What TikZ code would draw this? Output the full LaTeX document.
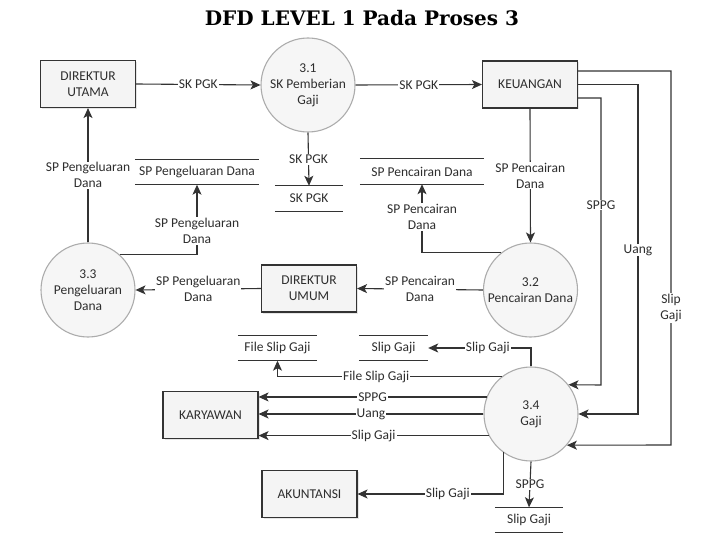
\documentclass[tikz,border=0pt]{standalone}
\usepackage{fontspec}
\setmainfont{Carlito}
\newfontfamily\titlefont{DejaVu Serif}
\usetikzlibrary{arrows.meta,calc,shadows}
\definecolor{ln}{HTML}{333333}
\definecolor{tx}{HTML}{2E2E2E}
\tikzset{
  ent/.style={draw=ln, line width=1.1pt, fill=gray!9, minimum width=95pt, minimum height=47pt, align=center, text=tx, font=\fontsize{13.5}{16}\selectfont, drop shadow={shadow xshift=1.5pt, shadow yshift=-1.5pt, fill=gray!40}},
  proc/.style={circle, draw=gray!65, line width=1.1pt, fill=gray!7, minimum size=94pt, inner sep=0pt, align=center, text=tx, font=\fontsize{13.5}{16}\selectfont},
  store/.style={minimum height=25pt, inner sep=0pt, text=tx, font=\fontsize{13.5}{16}\selectfont},
  arr/.style={draw=ln, line width=1.1pt, -{Stealth[length=10pt,width=9pt,inset=2.5pt]}},
  lbl/.style={fill=white, inner sep=1pt, text=tx, align=center, font=\fontsize{13.5}{16}\selectfont},
}
\begin{document}
\begin{tikzpicture}[x=1pt,y=-1pt]
\useasboundingbox (0,0) rectangle (720,540);
\node[font=\titlefont\bfseries\fontsize{20}{22}\selectfont] (title) at (362,18) {DFD LEVEL 1 Pada Proses 3};
% entities
\node[ent] (du) at (88,84) {DIREKTUR\\UTAMA};
\node[ent] (keu) at (530,84.5) {KEUANGAN};
\node[ent] (dum) at (309,288.5) {DIREKTUR\\UMUM};
\node[ent] (kar) at (210.5,415) {KARYAWAN};
\node[ent] (aku) at (309.5,494) {AKUNTANSI};
% processes
\node[proc] (p31) at (308,85) {3.1\\SK Pemberian\\Gaji};
\node[proc] (p32) at (530.5,290) {3.2\\Pencairan Dana};
\node[proc] (p33) at (88,290) {3.3\\Pengeluaran\\Dana};
\node[proc] (p34) at (531,414) {3.4\\Gaji};
% stores
\node[store, minimum width=124pt] (s1) at (197,172) {SP Pengeluaran Dana};
\node[store, minimum width=68pt] (s2) at (309,198.5) {SK PGK};
\node[store, minimum width=124pt] (s3) at (422,171.5) {SP Pencairan Dana};
\node[store, minimum width=79pt] (s4) at (277.5,348) {File Slip Gaji};
\node[store, minimum width=69pt] (s5) at (393.5,348) {Slip Gaji};
\node[store, minimum width=68pt] (s6) at (529,520) {Slip Gaji};
\foreach \s in {s1,s2,s3,s4,s5,s6}{
  \draw[ln, line width=1.1pt] (\s.north west) -- (\s.north east) (\s.south west) -- (\s.south east);
}
% flows
\draw[arr] (du.east) -- node[lbl]{SK PGK} (p31.west);
\draw[arr] (p31.east) -- node[lbl]{SK PGK} (keu.west);
\draw[arr] (p31.south) -- node[lbl]{SK PGK} (s2.north);
\draw[arr] (p33.north) -- node[lbl]{SP Pengeluaran\\Dana} (du.south);
\draw[arr] (p33.48) -| node[lbl, pos=0.67]{SP Pengeluaran\\Dana} (s1.south);
\draw[arr] (dum.west) -- node[lbl]{SP Pengeluaran\\Dana} (p33.east);
\draw[arr] (p32.west) -- node[lbl]{SP Pencairan\\Dana} (dum.east);
\draw[arr] (p32.128) -| node[lbl, pos=0.76]{SP Pencairan\\Dana} (s3.south);
\draw[arr] (keu.south) -- node[lbl]{SP Pencairan\\Dana} (p32.north);
\draw[arr] ([yshift=-13.5pt]keu.east) -| (601,385) -- (p34.38);
\node[lbl] (l1) at (601,205) {SPPG};
\draw[arr] (keu.east) -| (638,414) -- (p34.east);
\node[lbl] (l2) at (638,250) {Uang};
\draw[arr] ([yshift=13.5pt]keu.east) -| (671,445) -- (p34.-41);
\node[lbl] (l3) at (671,308) {Slip\\Gaji};
\draw[arr] (p34.north) |- node[lbl, pos=0.71]{Slip Gaji} (s5.east);
\draw[arr] (p34.128) -| node[lbl, pos=0.28]{File Slip Gaji} (s4.south);
\draw[arr] (p34.159) -- node[lbl]{SPPG} (p34.159 -| kar.east);
\draw[arr] (p34.west) -- node[lbl]{Uang} (p34.west -| kar.east);
\draw[arr] (p34.207) -- node[lbl]{Slip Gaji} (p34.207 -| kar.east);
\draw[arr] (p34.234) |- node[lbl, pos=0.69]{Slip Gaji} (aku.east);
\draw[arr] (p34.south) -- node[lbl]{SPPG} (s6.north);
\end{tikzpicture}
\end{document}
